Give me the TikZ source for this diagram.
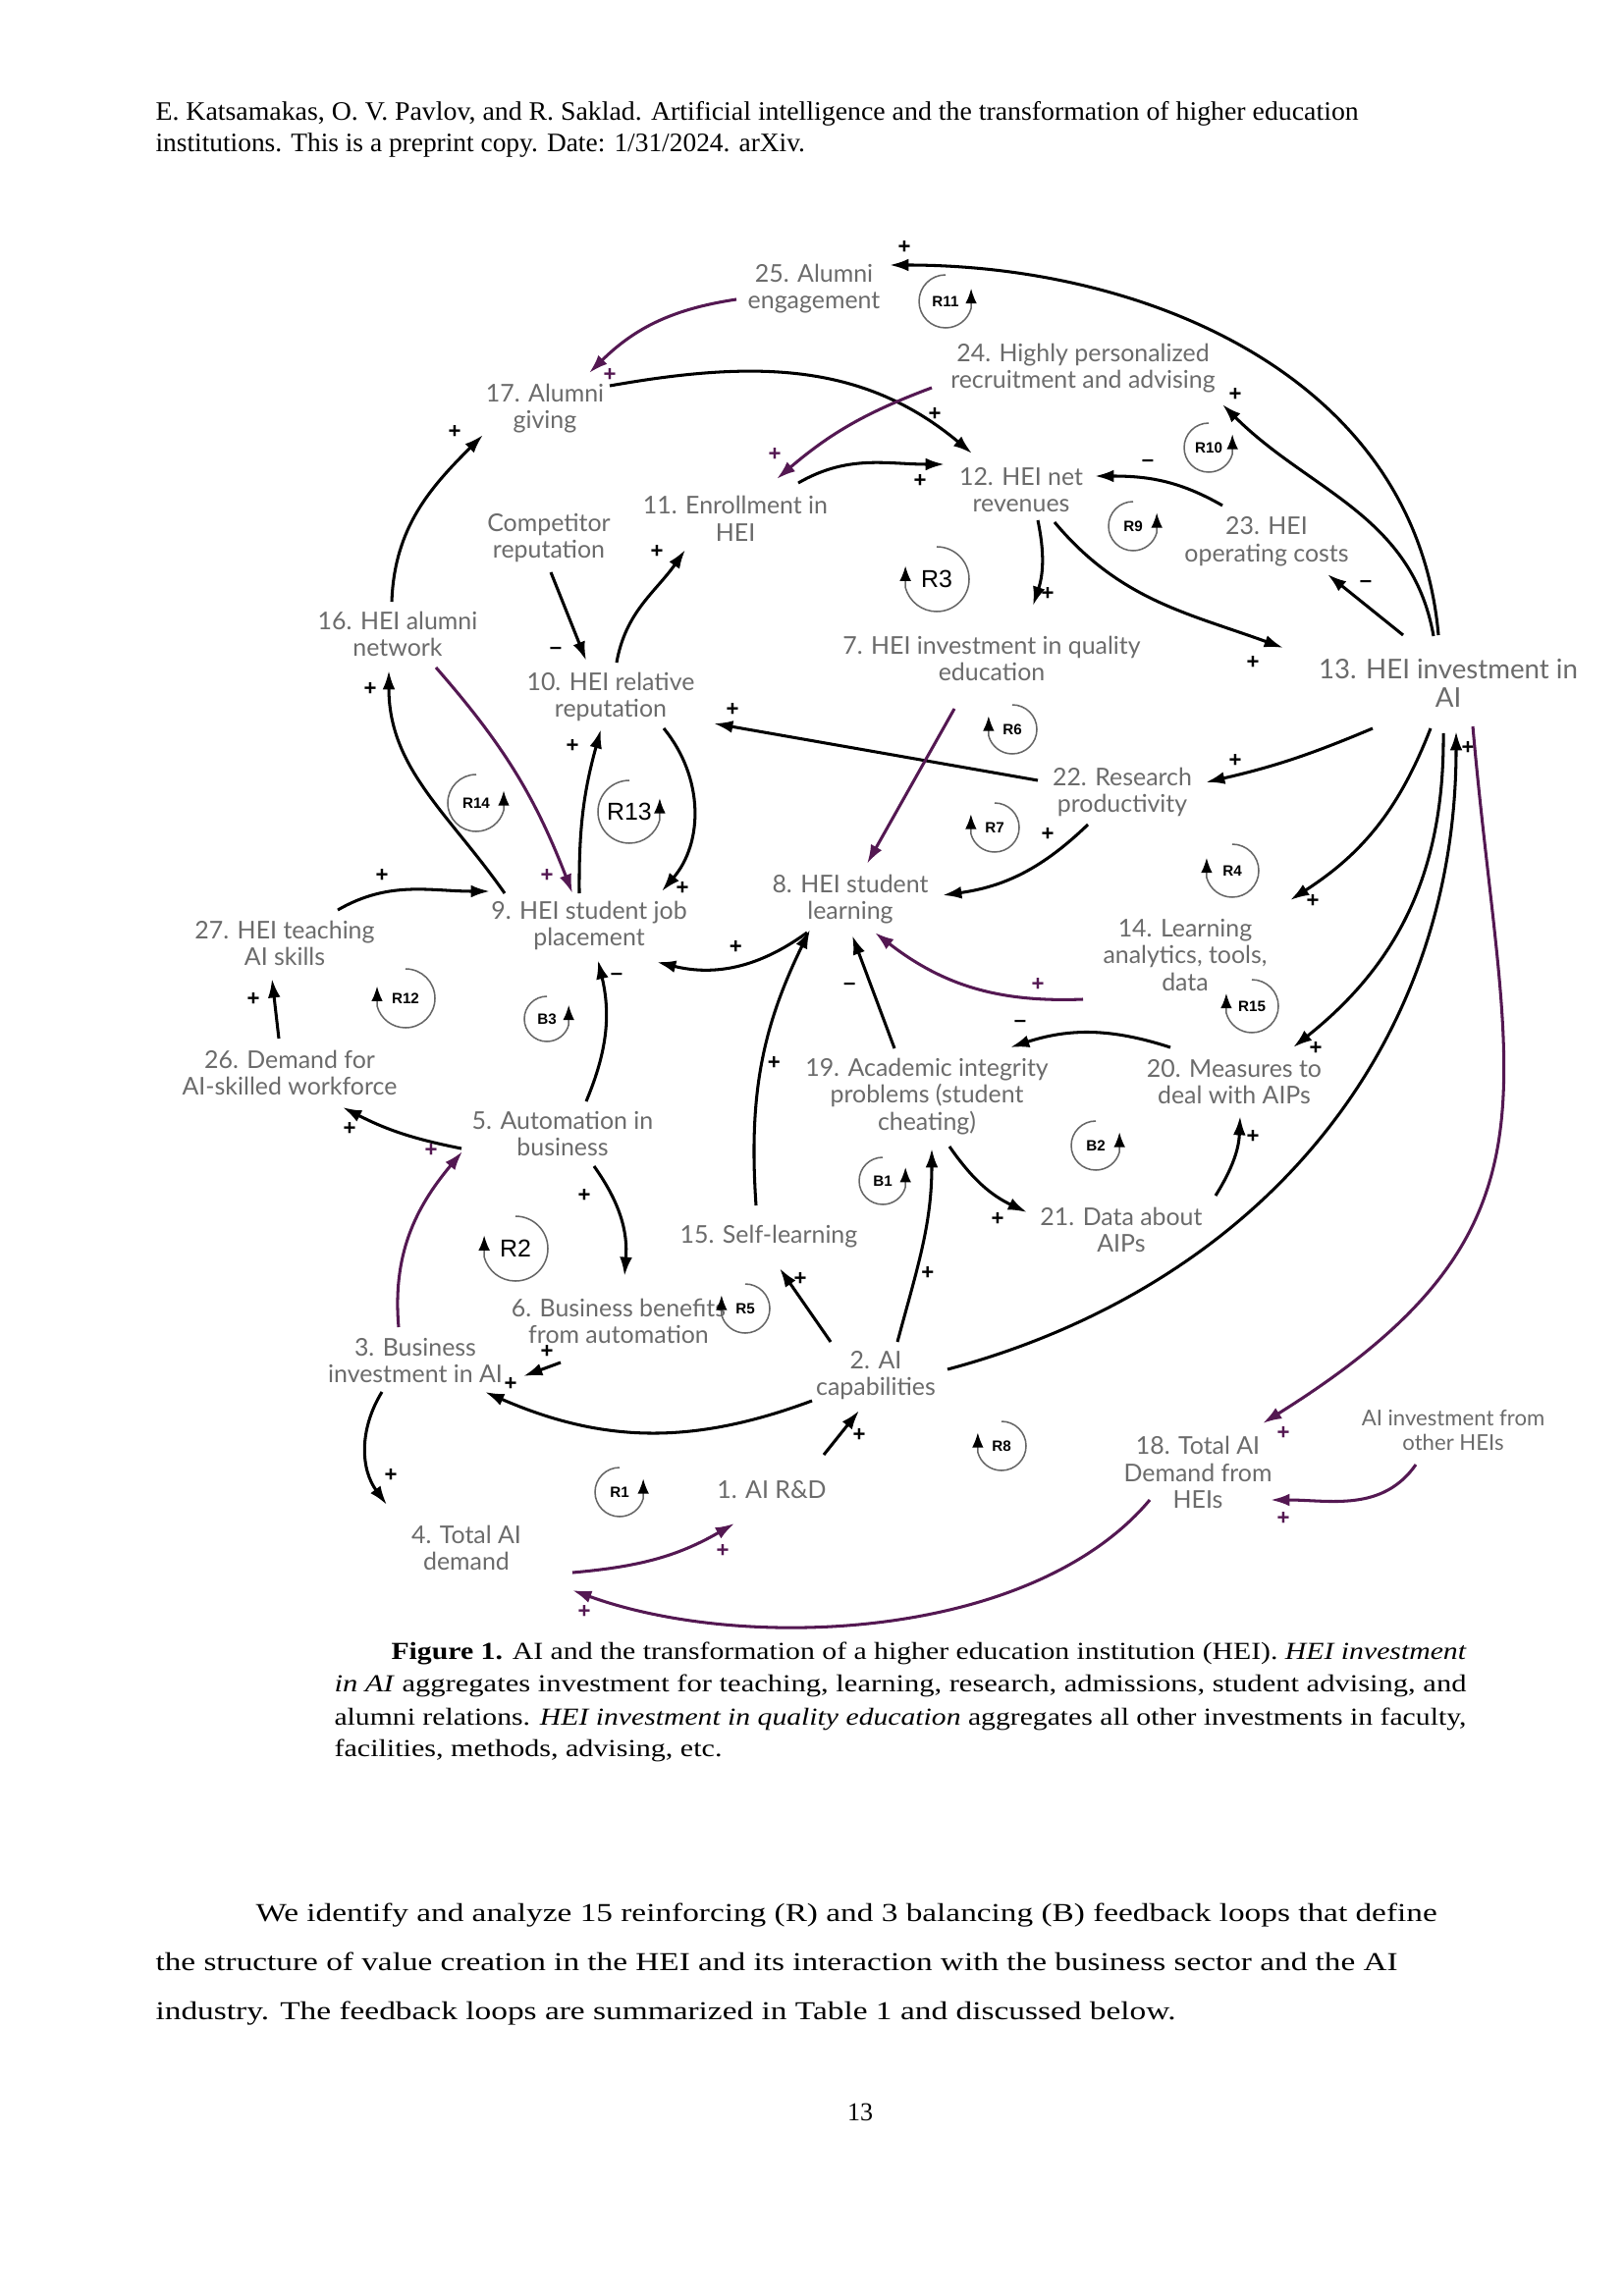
\documentclass[tikz,border=0pt]{standalone}
\usepackage{fontspec}
\usepackage{graphicx}
\setmainfont{Liberation Serif}
\newfontfamily\cldfont{Lato}
\newfontfamily\loopfont{Liberation Sans}
\usetikzlibrary{arrows.meta, calc}
\definecolor{cldpurple}{RGB}{84,24,82}
\tikzset{
  var/.style={font=\cldfont\fontsize{9}{10}\selectfont, text=black!58, align=center, inner sep=1pt},
  link/.style={line width=1.1pt, -{Latex[length=7pt,width=4.6pt]}},
  plink/.style={link, draw=cldpurple},
  pol/.style={font=\loopfont\bfseries\fontsize{8}{8}\selectfont, inner sep=0pt},
  ppol/.style={pol, text=cldpurple},
  looparc/.style={draw=black!60, line width=0.55pt, -{Latex[length=5.5pt,width=4.2pt,color=black]}},
  looplbl/.style={font=\loopfont\bfseries\fontsize{5.5}{5.5}\selectfont, inner sep=0.5pt},
  bigloop/.style={font=\loopfont\fontsize{9}{9}\selectfont, inner sep=0.5pt},
  txt/.style={anchor=base west, inner sep=0pt}
}

\begin{document}
\begin{tikzpicture}[x=0.127mm, y=-0.127mm]
  \fill[white] (0,0) rectangle (1653,2339);
  \useasboundingbox (0,0) rectangle (1653,2339);

  % page header
  \node[txt] (hdr1) at (158,123) {\resizebox{442.7pt}{\height}{\fontsize{9.8}{11}\selectfont E. Katsamakas, O. V. Pavlov, and R. Saklad. Artificial intelligence and the transformation of higher education}};
  \node[txt] (hdr2) at (158,155) {\resizebox{239pt}{\height}{\fontsize{9.8}{11}\selectfont institutions. This is a preprint copy. Date: 1/31/2024. arXiv.}};

  % variables
  \node[var] (n1) at (786,1518) {1. AI R\&D};
  \node[var] (n2) at (892,1401) {2. AI\\capabilities};
  \node[var] (n3) at (423,1386) {3. Business\\investment in AI};
  \node[var] (n4) at (475,1577) {4. Total AI\\demand};
  \node[var] (n5) at (573,1155) {5. Automation in\\business};
  \node[var] (n6) at (630,1346) {6. Business benefits\\from automation};
  \node[var] (n7) at (1010,671) {7. HEI investment in quality\\education};
  \node[var] (n8) at (866,916) {8. HEI student\\learning};
  \node[var] (n9) at (600,943) {9. HEI student job\\placement};
  \node[var] (n10) at (622,710) {10. HEI relative\\reputation};
  \node[var] (n11) at (749,528) {11. Enrollment in\\HEI};
  \node[var] (n12) at (1040,499) {12. HEI net\\revenues};
  \node[var, font=\cldfont\fontsize{10}{10.5}\selectfont] (n13) at (1475,696) {13. HEI investment in\\AI};
  \node[var] (n14) at (1207,973) {14. Learning\\analytics, tools,\\data};
  \node[var] (n15) at (783,1260) {15. Self-learning};
  \node[var] (n16) at (405,646) {16. HEI alumni\\network};
  \node[var] (n17) at (555,416) {17. Alumni\\giving};
  \node[var] (n18) at (1220,1500) {18. Total AI\\Demand from\\HEIs};
  \node[var] (n19) at (944,1117) {19. Academic integrity\\problems (student\\cheating)};
  \node[var] (n20) at (1257,1102) {20. Measures to\\deal with AIPs};
  \node[var] (n21) at (1142,1253) {21. Data about\\AIPs};
  \node[var] (n22) at (1143,807) {22. Research\\productivity};
  \node[var] (n23) at (1290,552) {23. HEI\\operating costs};
  \node[var] (n24) at (1103,375) {24. Highly personalized\\recruitment and advising};
  \node[var] (n25) at (829,294) {25. Alumni\\engagement};
  \node[var] (n26) at (295,1093) {26. Demand for\\AI-skilled workforce};
  \node[var] (n27) at (290,961) {27. HEI teaching\\AI skills};
  \node[var] (ncomp) at (559,548) {Competitor\\reputation};
  \node[var, font=\cldfont\fontsize{8}{9}\selectfont] (noth) at (1480,1457) {AI investment from\\other HEIs};

  % loop markers (arrow on the right: counter-clockwise, on the left: clockwise)
  \node[looplbl] (R11) at (963,307) {R11};
  \draw[looparc] (R11) ++(-90:27) arc[start angle=-90, end angle=-345, radius=27] -- ++(0,-20);
  \node[looplbl] (R10) at (1231,456) {R10};
  \draw[looparc] (R10) ++(-90:25) arc[start angle=-90, end angle=-345, radius=25] -- ++(0,-20);
  \node[looplbl] (R9) at (1154,536) {R9};
  \draw[looparc] (R9) ++(-90:25) arc[start angle=-90, end angle=-345, radius=25] -- ++(0,-20);
  \node[bigloop] (R3) at (954,590) {R3};
  \draw[looparc] (R3) ++(-90:33) arc[start angle=-90, end angle=165, radius=33] -- ++(0,-22);
  \node[looplbl] (R14) at (485,818) {R14};
  \draw[looparc] (R14) ++(-90:29) arc[start angle=-90, end angle=-345, radius=29] -- ++(0,-20);
  \node[bigloop] (R13) at (641,827) {R13};
  \draw[looparc] (R13) ++(-90:32) arc[start angle=-90, end angle=-345, radius=32] -- ++(0,-22);
  \node[looplbl] (R12) at (413,1017) {R12};
  \draw[looparc] (R12) ++(-90:30) arc[start angle=-90, end angle=165, radius=30] -- ++(0,-20);
  \node[looplbl] (B3) at (557,1038) {B3};
  \draw[looparc] (B3) ++(-90:23) arc[start angle=-90, end angle=-345, radius=23] -- ++(0,-20);
  \node[looplbl] (R6) at (1031,743) {R6};
  \draw[looparc] (R6) ++(-90:25) arc[start angle=-90, end angle=165, radius=25] -- ++(0,-20);
  \node[looplbl] (R7) at (1013,843) {R7};
  \draw[looparc] (R7) ++(-90:25) arc[start angle=-90, end angle=165, radius=25] -- ++(0,-20);
  \node[looplbl] (R4) at (1255,887) {R4};
  \draw[looparc] (R4) ++(-90:27) arc[start angle=-90, end angle=165, radius=27] -- ++(0,-20);
  \node[looplbl] (R15) at (1275,1025) {R15};
  \draw[looparc] (R15) ++(-90:27) arc[start angle=-90, end angle=165, radius=27] -- ++(0,-20);
  \node[looplbl] (B2) at (1116,1167) {B2};
  \draw[looparc] (B2) ++(-90:25) arc[start angle=-90, end angle=-345, radius=25] -- ++(0,-20);
  \node[looplbl] (B1) at (899,1203) {B1};
  \draw[looparc] (B1) ++(-90:24) arc[start angle=-90, end angle=-345, radius=24] -- ++(0,-20);
  \node[bigloop] (R2) at (525,1272) {R2};
  \draw[looparc] (R2) ++(-90:33) arc[start angle=-90, end angle=165, radius=33] -- ++(0,-22);
  \node[looplbl, fill=white] (R5) at (759,1333) {R5};
  \draw[looparc] (R5) ++(-90:25) arc[start angle=-90, end angle=165, radius=25] -- ++(0,-20);
  \node[looplbl] (R1) at (631,1520) {R1};
  \draw[looparc] (R1) ++(-90:25) arc[start angle=-90, end angle=-345, radius=25] -- ++(0,-20);
  \node[looplbl] (R8) at (1020,1473) {R8};
  \draw[looparc] (R8) ++(-90:25) arc[start angle=-90, end angle=165, radius=25] -- ++(0,-20);

  % HEI side
  \draw[link] ($(n13)+(-10,-49)$) to[out=95,in=0] node[pol,at end,shift={(15,-18)}]{+} ($(n25)+(77,-24)$);
  \draw[link] ($(n13)+(-15,-48)$) to[out=100,in=-45] node[pol,at end,shift={(13,-10)}]{+} ($(n24)+(142,37)$);
  \draw[link] ($(n13)+(-46,-49)$) -- node[pol,at end,shift={(39,10)}]{–} ($(n23)+(62,33)$);
  \draw[link] ($(n23)+(-45,-37)$) to[out=150,in=0] node[pol,at end,shift={(54,-13)}]{–} ($(n12)+(75,-14)$);
  \draw[link] ($(n12)+(34,33)$) to[out=-50,in=160] node[pol,at end,shift={(-31,15)}]{+} ($(n13)+(-168,-36)$);
  \draw[link] ($(n12)+(17,31)$) to[bend left=15] node[pol,at end,shift={(15,-12)}]{+} ($(n7)+(42,-54)$);
  \draw[link] ($(n17)+(66,-23)$) to[out=10,in=140] node[pol,at end,shift={(-38,-40)}]{+} ($(n12)+(-50,-37)$);
  \draw[link] ($(n11)+(64,-36)$) to[out=30,in=180] node[pol,at end,shift={(-25,17)}]{+} ($(n12)+(-78,-26)$);
  \draw[plink] ($(n24)+(-154,20)$) to[bend right=10] node[ppol,at end,shift={(-2,-25)}]{+} ($(n11)+(42,-40)$);
  \draw[plink] ($(n25)+(-79,11)$) to[bend right=18] node[ppol,at end,shift={(21,2)}]{+} ($(n17)+(45,-36)$);
  \draw[link] ($(n16)+(-6,-33)$) to[out=88,in=225] node[pol,at end,shift={(-29,-3)}]{+} ($(n17)+(-63,27)$);
  \draw[link] ($(ncomp)+(2,35)$) -- node[pol,at end,shift={(-31,-10)}]{–} ($(n10)+(-25,-37)$);
  \draw[link] ($(n10)+(6,-35)$) to[out=80,in=235] node[pol,at end,shift={(-29,2)}]{+} ($(n11)+(-51,32)$);
  \draw[link] ($(n22)+(-86,-12)$) -- node[pol,at end,shift={(19,-14)}]{+} ($(n10)+(105,27)$);
  \draw[link] ($(n10)+(54,32)$) to[bend left=40] node[pol,at end,shift={(21,-3)}]{+} ($(n9)+(74,-35)$);
  \draw[link] ($(n9)+(-10,-33)$) to[bend left=8] node[pol,at end,shift={(-29,17)}]{+} ($(n10)+(-10,33)$);
  \draw[link] ($(n9)+(-86,-33)$) to[out=125,in=-90] node[pol,at end,shift={(-19,19)}]{+} ($(n16)+(-9,37)$);
  \draw[plink] ($(n16)+(39,34)$) to[bend left=10] node[ppol,at end,shift={(-26,-18)}]{+} ($(n9)+(-17,-33)$);
  \draw[link] ($(n27)+(54,-34)$) to[out=30,in=180] node[pol,at start,shift={(45,-35)}]{+} ($(n9)+(-101,-35)$);
  \draw[link] ($(n26)+(-11,-35)$) -- node[pol,at end,shift={(-19,21)}]{+} ($(n27)+(-13,36)$);
  \draw[link] ($(n5)+(-103,15)$) to[bend left=8] node[pol,at end,shift={(7,22)}]{+} ($(n26)+(54,35)$);
  \draw[link] ($(n5)+(24,-33)$) to[bend right=18] node[pol,at end,shift={(19,17)}]{–} ($(n9)+(9,35)$);
  \draw[link] ($(n8)+(-44,34)$) to[bend left=25] node[pol,pos=.5,shift={(0,-19)}]{+} ($(n9)+(69,37)$);
  \draw[plink] ($(n7)+(-38,51)$) -- ($(n8)+(17,-36)$);
  \draw[link] ($(n22)+(-35,33)$) to[bend left=18] node[pol,at start,shift={(-41,10)}]{+} ($(n8)+(94,-4)$);
  \draw[link] ($(n13)+(-77,46)$) to[bend left=5] node[pol,at end,shift={(30,-22)}]{+} ($(n22)+(85,-10)$);
  \draw[link] ($(n13)+(-18,46)$) to[bend left=18] node[pol,at end,shift={(23,1)}]{+} ($(n14)+(107,-56)$);
  \draw[link] ($(n13)+(-5,51)$) to[bend left=26] node[pol,at end,shift={(23,1)}]{+} ($(n20)+(60,-35)$);

  % AI industry and business side
  \draw[link] ($(n2)+(73,-6)$) to[out=15,in=-90] node[pol,at end,shift={(12,17)}]{+} ($(n13)+(8,49)$);
  \draw[plink] ($(n13)+(25,44)$) to[out=-85,in=32,looseness=1.3] node[ppol,at end,shift={(21,10)}]{+} ($(n18)+(66,-50)$);
  \draw[plink] ($(noth)+(-38,35)$) to[out=-125,in=0] node[ppol,at end,shift={(13,19)}]{+} ($(n18)+(74,28)$);
  \draw[plink] ($(n18)+(-49,28)$) to[out=-130,in=-20,looseness=.8] node[ppol,at end,shift={(12,22)}]{+} ($(n4)+(108,43)$);
  \draw[plink] ($(n4)+(108,25)$) to[out=5,in=210] node[ppol,at end,shift={(-12,28)}]{+} ($(n1)+(-38,34)$);
  \draw[link] ($(n1)+(53,-36)$) -- node[pol,at end,shift={(0,25)}]{+} ($(n2)+(-17,36)$);
  \draw[link] ($(n2)+(-65,26)$) to[bend left=22] node[pol,at end,shift={(26,-8)}]{+} ($(n3)+(71,32)$);
  \draw[link] ($(n6)+(-59,42)$) -- node[pol,at end,shift={(24,-25)}]{+} ($(n3)+(110,16)$);
  \draw[link] ($(n3)+(-34,32)$) to[bend right=34] node[pol,at end,shift={(4,-30)}]{+} ($(n4)+(-81,-44)$);
  \draw[plink] ($(n3)+(-17,-34)$) to[out=95,in=230] node[ppol,at end,shift={(-32,-1)}]{+} ($(n5)+(-102,18)$);
  \draw[link] ($(n5)+(32,33)$) to[bend left=20] node[pol,at start,shift={(-10,30)}]{+} ($(n6)+(6,-46)$);
  \draw[link] ($(n2)+(-46,-34)$) -- node[pol,at end,shift={(21,11)}]{+} ($(n15)+(11,32)$);
  \draw[link] ($(n15)+(-13,-32)$) to[bend left=15] node[pol,pos=.5,shift={(12,0)}]{+} ($(n8)+(-41,31)$);
  \draw[link] ($(n19)+(-33,-49)$) -- node[pol,pos=.55,shift={(-22,0)}]{–} ($(n8)+(2,37)$);
  \draw[plink] ($(n14)+(-104,45)$) to[bend left=20] node[ppol,at start,shift={(-46,-15)}]{+} ($(n8)+(25,34)$);
  \draw[link] ($(n20)+(-65,-35)$) to[bend right=18] node[pol,at end,shift={(10,-24)}]{–} ($(n19)+(85,-50)$);
  \draw[link] ($(n2)+(22,-34)$) to[out=75,in=-90] node[pol,pos=.35,shift={(12,0)}]{+} ($(n19)+(5,53)$);
  \draw[link] ($(n19)+(23,51)$) to[bend right=15] node[pol,at end,shift={(-30,7)}]{+} ($(n21)+(-96,-18)$);
  \draw[link] ($(n21)+(96,-35)$) to[bend right=15] node[pol,at end,shift={(13,21)}]{+} ($(n20)+(6,35)$);

  % caption
  \node[txt] (cap1) at (398,1690) {\resizebox{395.7pt}{\height}{\fontsize{9}{12}\selectfont\textbf{Figure 1.} AI and the transformation of a higher education institution (HEI). \textit{HEI investment}}};
  \node[txt] (cap2) at (340,1723) {\resizebox{416.6pt}{\height}{\fontsize{9}{12}\selectfont\textit{in AI} aggregates investment for teaching, learning, research, admissions, student advising, and}};
  \node[txt] (cap3) at (340,1757) {\resizebox{416.6pt}{\height}{\fontsize{9}{12}\selectfont alumni relations. \textit{HEI investment in quality education} aggregates all other investments in faculty,}};
  \node[txt] (cap4) at (340,1789) {\resizebox{142.7pt}{\height}{\fontsize{9}{12}\selectfont facilities, methods, advising, etc.}};

  % body text
  \node[txt] (body1) at (260,1957) {\resizebox{434.7pt}{\height}{\fontsize{9.5}{12}\selectfont We identify and analyze 15 reinforcing (R) and 3 balancing (B) feedback loops that define}};
  \node[txt] (body2) at (158,2007) {\resizebox{457.1pt}{\height}{\fontsize{9.5}{12}\selectfont the structure of value creation in the HEI and its interaction with the business sector and the AI}};
  \node[txt] (body3) at (158,2057) {\resizebox{375.4pt}{\height}{\fontsize{9.5}{12}\selectfont industry. The feedback loops are summarized in Table 1 and discussed below.}};
  \node[anchor=base, inner sep=0pt] (pgno) at (876,2160) {\resizebox{9.4pt}{\height}{\fontsize{9.5}{12}\selectfont 13}};
\end{tikzpicture}
\end{document}
